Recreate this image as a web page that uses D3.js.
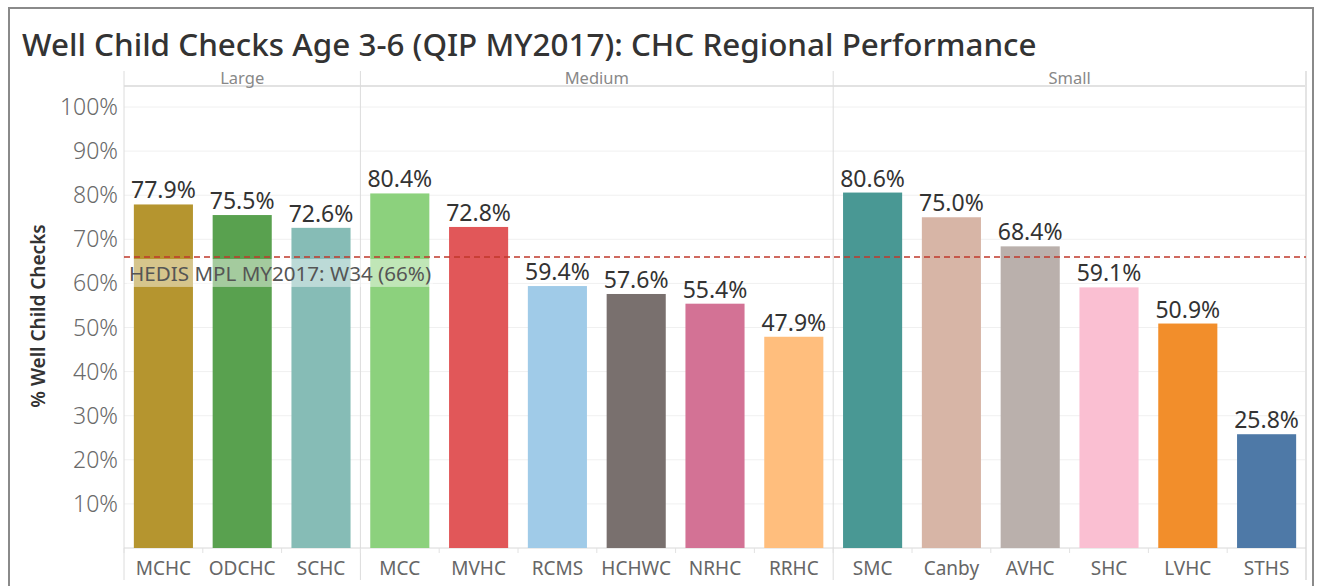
<!DOCTYPE html>
<html>
<head>
<meta charset="utf-8">
<script src="https://cdn.jsdelivr.net/npm/d3@7"></script>
<style>
  html, body { margin: 0; padding: 0; background: #fff; }
  svg { display: block; font-family: "Noto Sans", "Open Sans", sans-serif; }
</style>
</head>
<body>
<div id="chart"></div>
<script>
const groups = ['Large', 'Medium', 'Small'];
const clinics = ['MCHC', 'ODCHC', 'SCHC', 'MCC', 'MVHC', 'RCMS', 'HCHWC', 'NRHC', 'RRHC',
  'SMC', 'Canby', 'AVHC', 'SHC', 'LVHC', 'STHS'];
const clinicGroup = ['Large', 'Large', 'Large', 'Medium', 'Medium', 'Medium', 'Medium', 'Medium', 'Medium',
  'Small', 'Small', 'Small', 'Small', 'Small', 'Small'];
const rates = [77.9, 75.5, 72.6, 80.4, 72.8, 59.4, 57.6, 55.4, 47.9, 80.6, 75.0, 68.4, 59.1, 50.9, 25.8];
const colors = ['#b5952f', '#59a14f', '#86bcb6', '#8cd17d', '#e15759', '#a0cbe8', '#79706e', '#d37295',
  '#ffbe7d', '#499894', '#d7b5a6', '#bab0ac', '#fabfd2', '#f28e2b', '#4e79a7'];
const yTicks = [10, 20, 30, 40, 50, 60, 70, 80, 90, 100];
const target = 66;
const targetLabel = 'HEDIS MPL MY2017: W34 (66%)';

const W = 1317, H = 586;
const plotLeft = 124, plotRight = 1306, headLine = 86, plotBottom = 548, headTop = 71;

const svg = d3.select('#chart').append('svg').attr('width', W).attr('height', H);

// Frame
svg.append('path')
  .attr('d', `M9,${H} V8 H1313 V${H}`)
  .attr('fill', 'none').attr('stroke', '#8a8a8a').attr('stroke-width', 2);

// Title
svg.append('text').attr('x', 22).attr('y', 56)
  .attr('font-size', '31.4px').attr('fill', '#333').attr('font-weight', 500)
  .text('Well Child Checks Age 3-6 (QIP MY2017): CHC Regional Performance');

const x = d3.scaleBand().domain(clinics).range([plotLeft, plotRight]).paddingInner(0.25).paddingOuter(0.125);
const y = d3.scaleLinear().domain([0, 100]).range([plotBottom, 107]);
const step = x.step();
const edge = c => plotLeft + clinics.indexOf(c) * step;

// Gridlines
svg.append('g').selectAll('line').data(yTicks).join('line')
  .attr('x1', plotLeft).attr('x2', plotRight).attr('y1', d => y(d)).attr('y2', d => y(d))
  .attr('stroke', '#f0f0f0');

// Y axis labels
svg.append('g').selectAll('text').data(yTicks).join('text')
  .attr('x', 118).attr('y', d => y(d) + 8).attr('text-anchor', 'end')
  .attr('font-size', '23px').attr('fill', '#6a6a6a').attr('font-weight', 300)
  .text(d => d + '%');

svg.append('text')
  .attr('transform', `translate(45,316) rotate(-90)`)
  .attr('text-anchor', 'middle').attr('font-size', '19px').attr('font-weight', 600).attr('fill', '#333')
  .text('% Well Child Checks');

// Group panels
svg.append('line').attr('x1', plotLeft).attr('x2', plotRight).attr('y1', headLine).attr('y2', headLine)
  .attr('stroke', '#e2e2e2').attr('stroke-width', 2);

groups.forEach((g, i) => {
  const members = clinics.filter((c, j) => clinicGroup[j] === g);
  const x0 = edge(members[0]), x1 = edge(members[members.length - 1]) + step;
  svg.append('text').attr('x', (x0 + x1) / 2).attr('y', 84).attr('text-anchor', 'middle')
    .attr('font-size', '16.5px').attr('fill', '#888').text(g);
  svg.append('line').attr('x1', x0).attr('x2', x0).attr('y1', headTop).attr('y2', 580)
    .attr('stroke', '#dcdcdc');
  if (i === groups.length - 1) {
    svg.append('line').attr('x1', x1).attr('x2', x1).attr('y1', headTop).attr('y2', 580)
      .attr('stroke', '#e4e4e4').attr('stroke-width', 2);
  }
});

// Bottom axis
svg.append('line').attr('x1', plotLeft).attr('x2', plotRight).attr('y1', plotBottom).attr('y2', plotBottom)
  .attr('stroke', '#d8d8d8');
svg.append('g').selectAll('line').data(clinics).join('line')
  .attr('x1', d => edge(d)).attr('x2', d => edge(d)).attr('y1', plotBottom).attr('y2', plotBottom + 5)
  .attr('stroke', '#e2e2e2');

// Bars
svg.append('g').selectAll('rect').data(clinics).join('rect')
  .attr('x', d => x(d)).attr('width', x.bandwidth())
  .attr('y', (d, i) => y(rates[i])).attr('height', (d, i) => y(0) - y(rates[i]))
  .attr('fill', (d, i) => colors[i]);

// Value labels
svg.append('g').selectAll('text').data(clinics).join('text')
  .attr('x', d => x(d) + x.bandwidth() / 2).attr('y', (d, i) => y(rates[i]) - 6)
  .attr('text-anchor', 'middle').attr('font-size', '23px').attr('fill', '#333')
  .text((d, i) => rates[i].toFixed(1) + '%');

// Category labels
svg.append('g').selectAll('text').data(clinics).join('text')
  .attr('x', d => x(d) + x.bandwidth() / 2).attr('y', 575)
  .attr('text-anchor', 'middle').attr('font-size', '19px').attr('fill', '#666')
  .text(d => d);

// Reference line
svg.append('line').attr('x1', plotLeft).attr('x2', plotRight).attr('y1', y(target)).attr('y2', y(target))
  .attr('stroke', '#c0392b').attr('stroke-width', 1.5).attr('stroke-dasharray', '6,4');

const lbl = svg.append('g');
const lblText = lbl.append('text').attr('x', 129).attr('y', y(target) + 24)
  .attr('font-size', '20.6px').attr('fill', '#555').text(targetLabel);
const bb = lblText.node().getBBox();
lbl.insert('rect', 'text').attr('x', bb.x - 2).attr('y', bb.y).attr('width', bb.width + 4).attr('height', bb.height)
  .attr('fill', '#fff').attr('opacity', 0.45);
</script>
</body>
</html>
